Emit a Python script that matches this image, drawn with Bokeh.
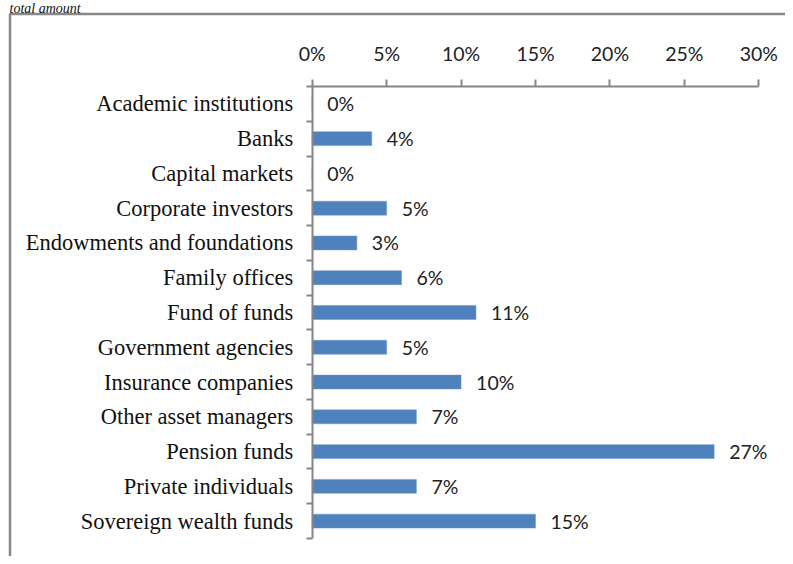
from bokeh.plotting import figure
from bokeh.models import LinearAxis, FixedTicker, Range1d, ColumnDataSource
from bokeh.core.properties import value
from bokeh.embed import file_html
from bokeh.resources import INLINE

# ---- data ----
categories = ["Academic institutions", "Banks", "Capital markets", "Corporate investors",
              "Endowments and foundations", "Family offices", "Fund of funds",
              "Government agencies", "Insurance companies", "Other asset managers",
              "Pension funds", "Private individuals", "Sovereign wealth funds"]
shares = [0, 4, 0, 5, 3, 6, 11, 5, 10, 7, 27, 7, 15]
share_labels = ["0%", "4%", "0%", "5%", "3%", "6%", "11%", "5%", "10%", "7%", "27%", "7%", "15%"]
x_ticks = [0, 5, 10, 15, 20, 25, 30]
x_tick_labels = ["0%", "5%", "10%", "15%", "20%", "25%", "30%"]
caption_tail = "total amount"

# ---- layout (pixels) ----
W, H = 785, 556
X0_PX, PX_PER_PCT = 311.7, 14.887
Y0_PX, BAND_PX = 86.0, 34.77
n = len(categories)
x_start = -X0_PX / PX_PER_PCT
x_end = (W - X0_PX) / PX_PER_PCT
y_top = -Y0_PX / BAND_PX
y_bottom = (H - Y0_PX) / BAND_PX

centers = [i + 0.5 for i in range(n)]
edges = [i for i in range(n + 1)]

src = ColumnDataSource(dict(y=centers, v=shares, lab=share_labels))

p = figure(width=W, height=H, x_range=Range1d(x_start, x_end), y_range=Range1d(y_bottom, y_top),
           x_axis_location=None, y_axis_location=None, toolbar_location=None,
           output_backend="svg", title=None, min_border=0, outline_line_color=None)
p.min_border_left = 0
p.min_border_right = 0
p.min_border_top = 0
p.min_border_bottom = 0
p.grid.visible = False
p.background_fill_color = "white"
p.border_fill_color = "white"

AX = "#868686"
SANS = "Lato"
SANS_SIZE = "19.5px"

# chart-area border (top and left visible; right and bottom run past the page)
p.quad(left=[x_start + 9.5 / PX_PER_PCT], right=[x_end + 2], top=[y_top + 13.5 / BAND_PX],
       bottom=[y_bottom + 2], fill_color=None, line_color="#888888", line_width=2.5)

p.hbar(y="y", left=0, right="v", height=0.4, source=src, fill_color="#4F81BD",
       line_color="#6a96cc", line_width=0.5)
p.text(x="v", y="y", text="lab", source=src, x_offset=15, text_align="left",
       text_baseline="middle", text_font=value(SANS), text_font_size=SANS_SIZE,
       text_color="#222222")

# caption remnant at the very top (kept fully inside the page)
p.text(x=[x_start + 9 / PX_PER_PCT], y=[y_top + 0.5 / BAND_PX], text=[caption_tail],
       text_align="left", text_baseline="top", text_font=value("Liberation Serif"),
       text_font_style="italic", text_font_size="14px", text_color="#111111")

xa = LinearAxis(fixed_location=0, bounds=(0, 30), ticker=FixedTicker(ticks=x_ticks),
                major_label_overrides={t: l for t, l in zip(x_ticks, x_tick_labels)})
xa.axis_line_color = AX
xa.axis_line_width = 2
xa.major_tick_line_color = AX
xa.major_tick_line_width = 2
xa.major_tick_out = 7
xa.major_tick_in = 0
xa.minor_tick_line_color = None
xa.major_label_standoff = 15
xa.major_label_text_font = SANS
xa.major_label_text_font_size = SANS_SIZE
xa.major_label_text_color = "#222222"
p.add_layout(xa, "above")

ya = LinearAxis(fixed_location=0, bounds=(0, n),
                ticker=FixedTicker(ticks=centers, minor_ticks=edges),
                major_label_overrides={c: cat for c, cat in zip(centers, categories)})
ya.axis_line_color = AX
ya.axis_line_width = 2
ya.major_tick_line_color = None
ya.major_tick_out = 0
ya.major_tick_in = 0
ya.minor_tick_line_color = AX
ya.minor_tick_line_width = 2
ya.minor_tick_out = 6
ya.minor_tick_in = 0
ya.major_label_standoff = 13
ya.major_label_text_font = "Liberation Serif"
ya.major_label_text_font_size = "22.5px"
ya.major_label_text_color = "#111111"
p.add_layout(ya, "left")

open("out.html", "w").write(file_html(p, INLINE))
